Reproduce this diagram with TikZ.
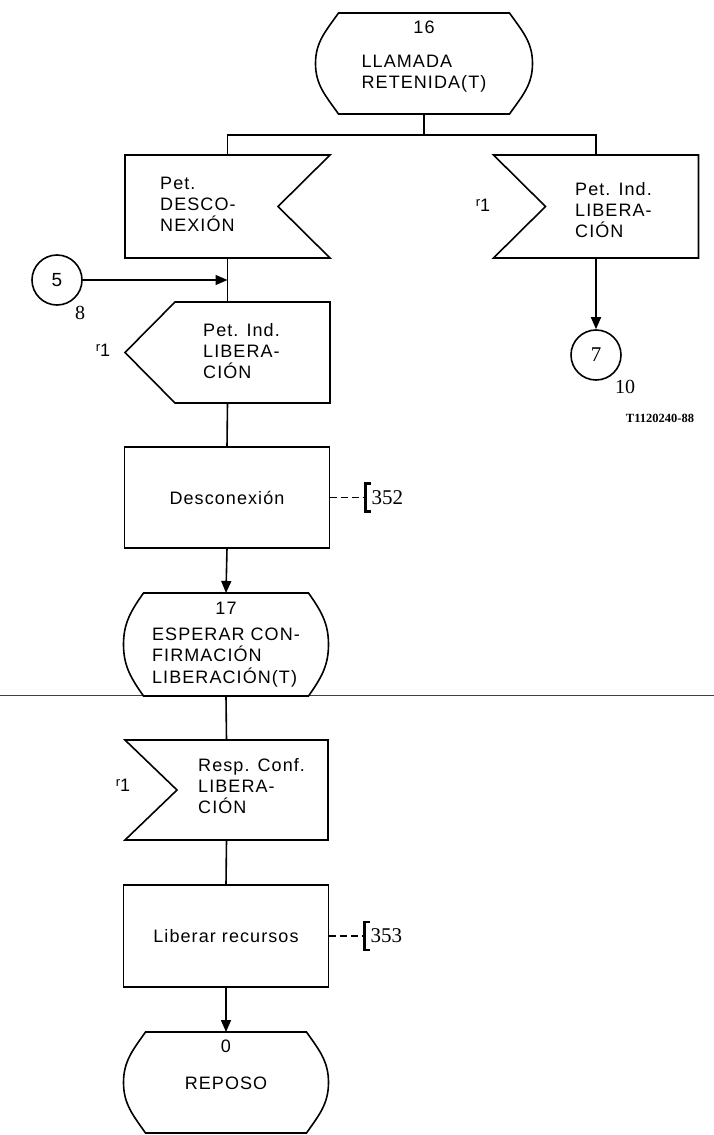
\documentclass[tikz,border=0pt]{standalone}
\usepackage{fontspec}
\setmainfont{Liberation Sans}[LetterSpace=6]
\newfontfamily\serifnum{Liberation Serif}
\usetikzlibrary{calc,arrows.meta}

\tikzset{
  ln/.style={line width=1.6pt, line join=miter},
  shapebox/.style={rectangle, inner sep=0pt, outer sep=0pt, minimum width=205pt, minimum height=101pt},
  taskbox/.style={shapebox, draw, ln, font=\fontsize{18}{21}\selectfont},
  lbl/.style={font=\fontsize{18}{21}\selectfont, align=left, inner sep=0pt, anchor=west},
  stxt/.style={font=\fontsize{18}{21}\selectfont, inner sep=0pt},
  arr/.style={ln, -{Triangle[length=12pt,width=10pt]}},
  conn/.style={circle, draw, line width=1.6pt, minimum size=50pt, inner sep=0pt},
  num/.style={font=\serifnum\fontsize{20}{22}\selectfont, inner sep=0pt},
  refmark/.style={line width=1.6pt, dash pattern=on 7pt off 4pt},
  brk/.style={line width=2.2pt},
  rone/.style={font=\fontsize{18}{20}\selectfont, inner sep=0pt}
}

\newcommand\stateoutline[2]{%
  \draw[ln] ($(#1.north west)+(#2,0)$) -- ($(#1.north east)+(-#2,0)$)
    to[out=-55,in=90] (#1.east) to[out=-90,in=55] ($(#1.south east)+(-#2,0)$)
    -- ($(#1.south west)+(#2,0)$) to[out=125,in=-90] (#1.west)
    to[out=90,in=-125] ($(#1.north west)+(#2,0)$) -- cycle;}
\newcommand\inputright[1]{%
  \draw[ln] (#1.north west) -- (#1.north east) -- ($(#1.east)+(-52,0)$)
    -- (#1.south east) -- (#1.south west) -- cycle;}
\newcommand\inputleft[1]{%
  \draw[ln] (#1.north west) -- (#1.north east) -- (#1.south east)
    -- (#1.south west) -- ($(#1.west)+(52,0)$) -- cycle;}
\newcommand\outputleft[1]{%
  \draw[ln] ($(#1.north west)+(50,0)$) -- (#1.north east) -- (#1.south east)
    -- ($(#1.south west)+(50,0)$) -- (#1.west) -- cycle;}
\newcommand\rmark{\raisebox{5pt}{\fontsize{13}{14}\selectfont r}1}

\begin{document}
\begin{tikzpicture}[x=1pt,y=1pt]
\useasboundingbox (0,0) rectangle (714,-1135);

% page separation line
\draw[line width=0.6pt, black!75] (0,-695) -- (714,-695);

% ---------- shapes ----------
\node[shapebox, minimum width=217pt] (s16) at (424,-63.5) {};
\stateoutline{s16}{23}
\node[stxt] (s16t) at (424,-57) {\begin{tabular}{@{}l@{}}\multicolumn{1}{@{}c@{}}{16}\\[13pt]LLAMADA\\RETENIDA(T)\end{tabular}};

\node[shapebox, minimum height=103pt] (in1) at (227.5,-206.5) {};
\inputright{in1}
\node[lbl] (in1t) at ($(in1.west)+(35,2.5)$) {Pet.\\DESCO-\\NEXIÓN};

\node[shapebox, minimum height=103pt] (in2) at (596,-206.5) {};
\inputleft{in2}
\node[lbl] (in2t) at ($(in2.west)+(81.5,-3.5)$) {Pet. Ind.\\LIBERA-\\CIÓN};
\node[rone] (r1a) at (483,-205) {\rmark};

\node[conn, font=\fontsize{19}{20}\selectfont] (c5) at (57,-280) {5};
\node[num] (n8) at ($(c5)+(23,-33)$) {8};

\node[conn, font=\serifnum\fontsize{21}{22}\selectfont] (c7) at (596,-355) {7};
\node[num] (n10) at ($(c7)+(29,-32)$) {10};
\node[font=\serifnum\bfseries\fontsize{12.5}{14}\selectfont, inner sep=0pt] (code) at (660,-418) {T1120240-88};

\node[shapebox] (out1) at (227.5,-352.5) {};
\outputleft{out1}
\node[lbl] (out1t) at ($(out1.west)+(78,1.5)$) {Pet. Ind.\\LIBERA-\\CIÓN};
\node[rone] (r1b) at (103,-350) {\rmark};

\node[taskbox] (t1) at (227,-497.5) {Desconexión};

\node[shapebox, minimum height=103pt] (s17) at (226,-644.5) {};
\stateoutline{s17}{20}
\node[stxt, font=\fontsize{18}{19.5}\selectfont] (s17t) at (226,-645) {\begin{tabular}{@{}l@{}}\multicolumn{1}{@{}c@{}}{17}\\[6pt]ESPERAR CON-\\FIRMACIÓN\\LIBERACIÓN(T)\end{tabular}};

\node[shapebox, minimum width=203pt, minimum height=100pt] (in3) at (226.5,-790) {};
\inputleft{in3}
\node[lbl] (in3t) at ($(in3.west)+(73,3.5)$) {Resp. Conf.\\LIBERA-\\CIÓN};
\node[rone] (r1c) at (123,-785) {\rmark};

\node[taskbox, minimum height=102pt] (t2) at (226,-936) {Liberar recursos};

\node[shapebox] (s0) at (226,-1082.5) {};
\stateoutline{s0}{22}
\node[stxt] (s0t) at (226,-1067) {\begin{tabular}{@{}c@{}}0\\[16pt]REPOSO\end{tabular}};

% ---------- connectors ----------
\coordinate (br) at (424,-135);
\draw[ln] (s16.south) -- (br);
\draw[ln] (in1.north) |- (br);
\draw[ln] (in2.north) |- (br);
\draw[arr] (in2.south) -- (c7.north);
\draw[ln] (in1.south) -- (out1.north);
\draw[arr] (c5.east) -- (c5.east -| in1.south);
\draw[ln] (out1.south) -- (t1.north);
\draw[arr] (t1.south) -- (s17.north);
\draw[ln] (s17.south) -- (in3.north);
\draw[ln] (in3.south) -- (t2.north);
\draw[arr] (t2.south) -- (s0.north);

% ---------- references ----------
\draw[refmark] (t1.east) -- ++(36,0) coordinate (k1);
\draw[brk] ($(k1)+(5,14)$) -- ($(k1)+(0,14)$) -- ($(k1)+(0,-14)$) -- ($(k1)+(5,-14)$);
\node[num, font=\serifnum\fontsize{21}{23}\selectfont, anchor=west] (a352) at ($(k1)+(6,0)$) {352};

\draw[refmark] (t2.east) -- ++(36,0) coordinate (k2);
\draw[brk] ($(k2)+(5,14)$) -- ($(k2)+(0,14)$) -- ($(k2)+(0,-14)$) -- ($(k2)+(5,-14)$);
\node[num, font=\serifnum\fontsize{21}{23}\selectfont, anchor=west] (a353) at ($(k2)+(6,0)$) {353};
\end{tikzpicture}
\end{document}
